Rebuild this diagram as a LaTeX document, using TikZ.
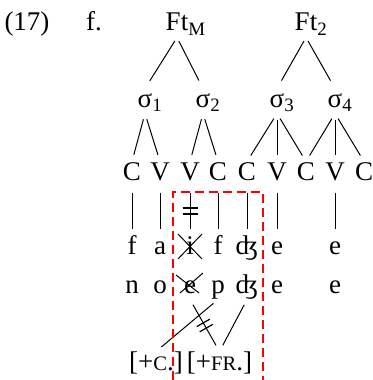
\documentclass[tikz,border=0pt]{standalone}
\usepackage{fontspec}
\setmainfont{Liberation Serif}
\usetikzlibrary{calc,decorations.markings}
\newcommand{\fsc}[1]{{\fontsize{10.3pt}{11pt}\selectfont #1}}
\begin{document}
\begin{tikzpicture}[x=0.5pt,y=-0.5pt,line width=0.5pt,
  every node/.style={font=\fontsize{13.5pt}{15pt}\selectfont,inner sep=0pt,
    text height=9pt,text depth=3pt,anchor=base},
  br/.style={shorten <=2pt,shorten >=4.5pt},
  ln/.style={shorten <=3pt,shorten >=3.5pt},
  dl/.style={ln,postaction={decorate},decoration={markings,
    mark=at position 0.5 with {\draw[line width=0.6pt,shorten <=0pt,shorten >=0pt]
      (-1.5pt,-3.75pt) -- (-1.5pt,3.75pt) (1.5pt,-3.75pt) -- (1.5pt,3.75pt);}}}]
  \useasboundingbox (0,0) rectangle (373,380);
  % labels of the example
  \node (ex) at (27,31) {(17)};
  \node (lt) at (94,31) {f.};
  % feet and syllables
  \node (ftm) at (177,31) {Ft\rlap{\textsubscript{M}}};
  \node (ftb) at (306,31) {Ft\rlap{\textsubscript{2}}};
  \node (s1) at (145,107) {σ\rlap{\textsubscript{1}}};
  \node (s2) at (203,107) {σ\rlap{\textsubscript{2}}};
  \node (s3) at (277,107) {σ\rlap{\textsubscript{3}}};
  \node (s4) at (335,107) {σ\rlap{\textsubscript{4}}};
  \draw[br] (ftm.south) -- (s1.north);
  \draw[br] (ftm.south) -- (s2.north);
  \draw[br] (ftb.south) -- (s3.north);
  \draw[br] (ftb.south) -- (s4.north);
  % CV tier
  \node (cv1) at (132,180) {C};
  \node (cv2) at (160,180) {V};
  \node (cv3) at (190,180) {V};
  \node (cv4) at (218,180) {C};
  \node (cv5) at (247,180) {C};
  \node (cv6) at (277,180) {V};
  \node (cv7) at (306,180) {C};
  \node (cv8) at (335,180) {V};
  \node (cv9) at (364,180) {C};
  \draw[ln] (s1.south) -- (cv1.north);
  \draw[ln] (s1.south) -- (cv2.north);
  \draw[ln] (s2.south) -- (cv3.north);
  \draw[ln] (s2.south) -- (cv4.north);
  \draw[ln] (s3.south) -- (cv5.north);
  \draw[ln] (s3.south) -- (cv6.north);
  \draw[ln] (s3.south) -- (cv7.north);
  \draw[ln] (s4.south) -- (cv7.north);
  \draw[ln] (s4.south) -- (cv8.north);
  \draw[ln] (s4.south) -- (cv9.north);
  % segments
  \node (u1) at (132,254) {f};
  \node (u2) at (160,254) {a};
  \node (u3) at (190,254) {i};
  \node (u4) at (218,254) {f};
  \node (u5) at (247,254) {ʤ};
  \node (u6) at (277,254) {e};
  \node (u7) at (335,254) {e};
  \node (w1) at (132,293) {n};
  \node (w2) at (160,293) {o};
  \node (w3) at (190,293) {e};
  \node (w4) at (218,293) {p};
  \node (w5) at (247,293) {ʤ};
  \node (w6) at (277,293) {e};
  \node (w7) at (335,293) {e};
  \draw[ln] (cv1.south) -- (u1.north);
  \draw[ln] (cv2.south) -- (u2.north);
  \draw[dl] (cv3.south) -- (u3.north);
  \draw[ln] (cv4.south) -- (u4.north);
  \draw[ln] (cv5.south) -- (u5.north);
  \draw[ln] (cv6.south) -- (u6.north);
  \draw[ln] (cv8.south) -- (u7.north);
  % deleted vowels
  \draw ($(u3.base)+(-12,-20)$) -- ($(u3.base)+(12,5)$);
  \draw ($(u3.base)+(12,-20)$) -- ($(u3.base)+(-12,5)$);
  \draw ($(w3.base)+(-14,-18)$) -- ($(w3.base)+(9,0)$);
  \draw ($(w3.base)+(-10,0)$) -- ($(w3.base)+(13,-20)$);
  % features
  \node (fc) at (156,370) {[+\fsc{C}.]};
  \node (ffr) at (219.5,370) {[+\fsc{FR}.]};
  \draw[ln] (w4.south) -- (fc.north);
  \draw[ln] (w5.south) -- (ffr.north);
  \draw[dl] (w3.south) -- (ffr.north);
  % window
  \draw[red,line width=1.2pt,dash pattern=on 4.5pt off 2.5pt] (173,380) -- (173,192) -- (263,192) -- (263,380);
\end{tikzpicture}
\end{document}
